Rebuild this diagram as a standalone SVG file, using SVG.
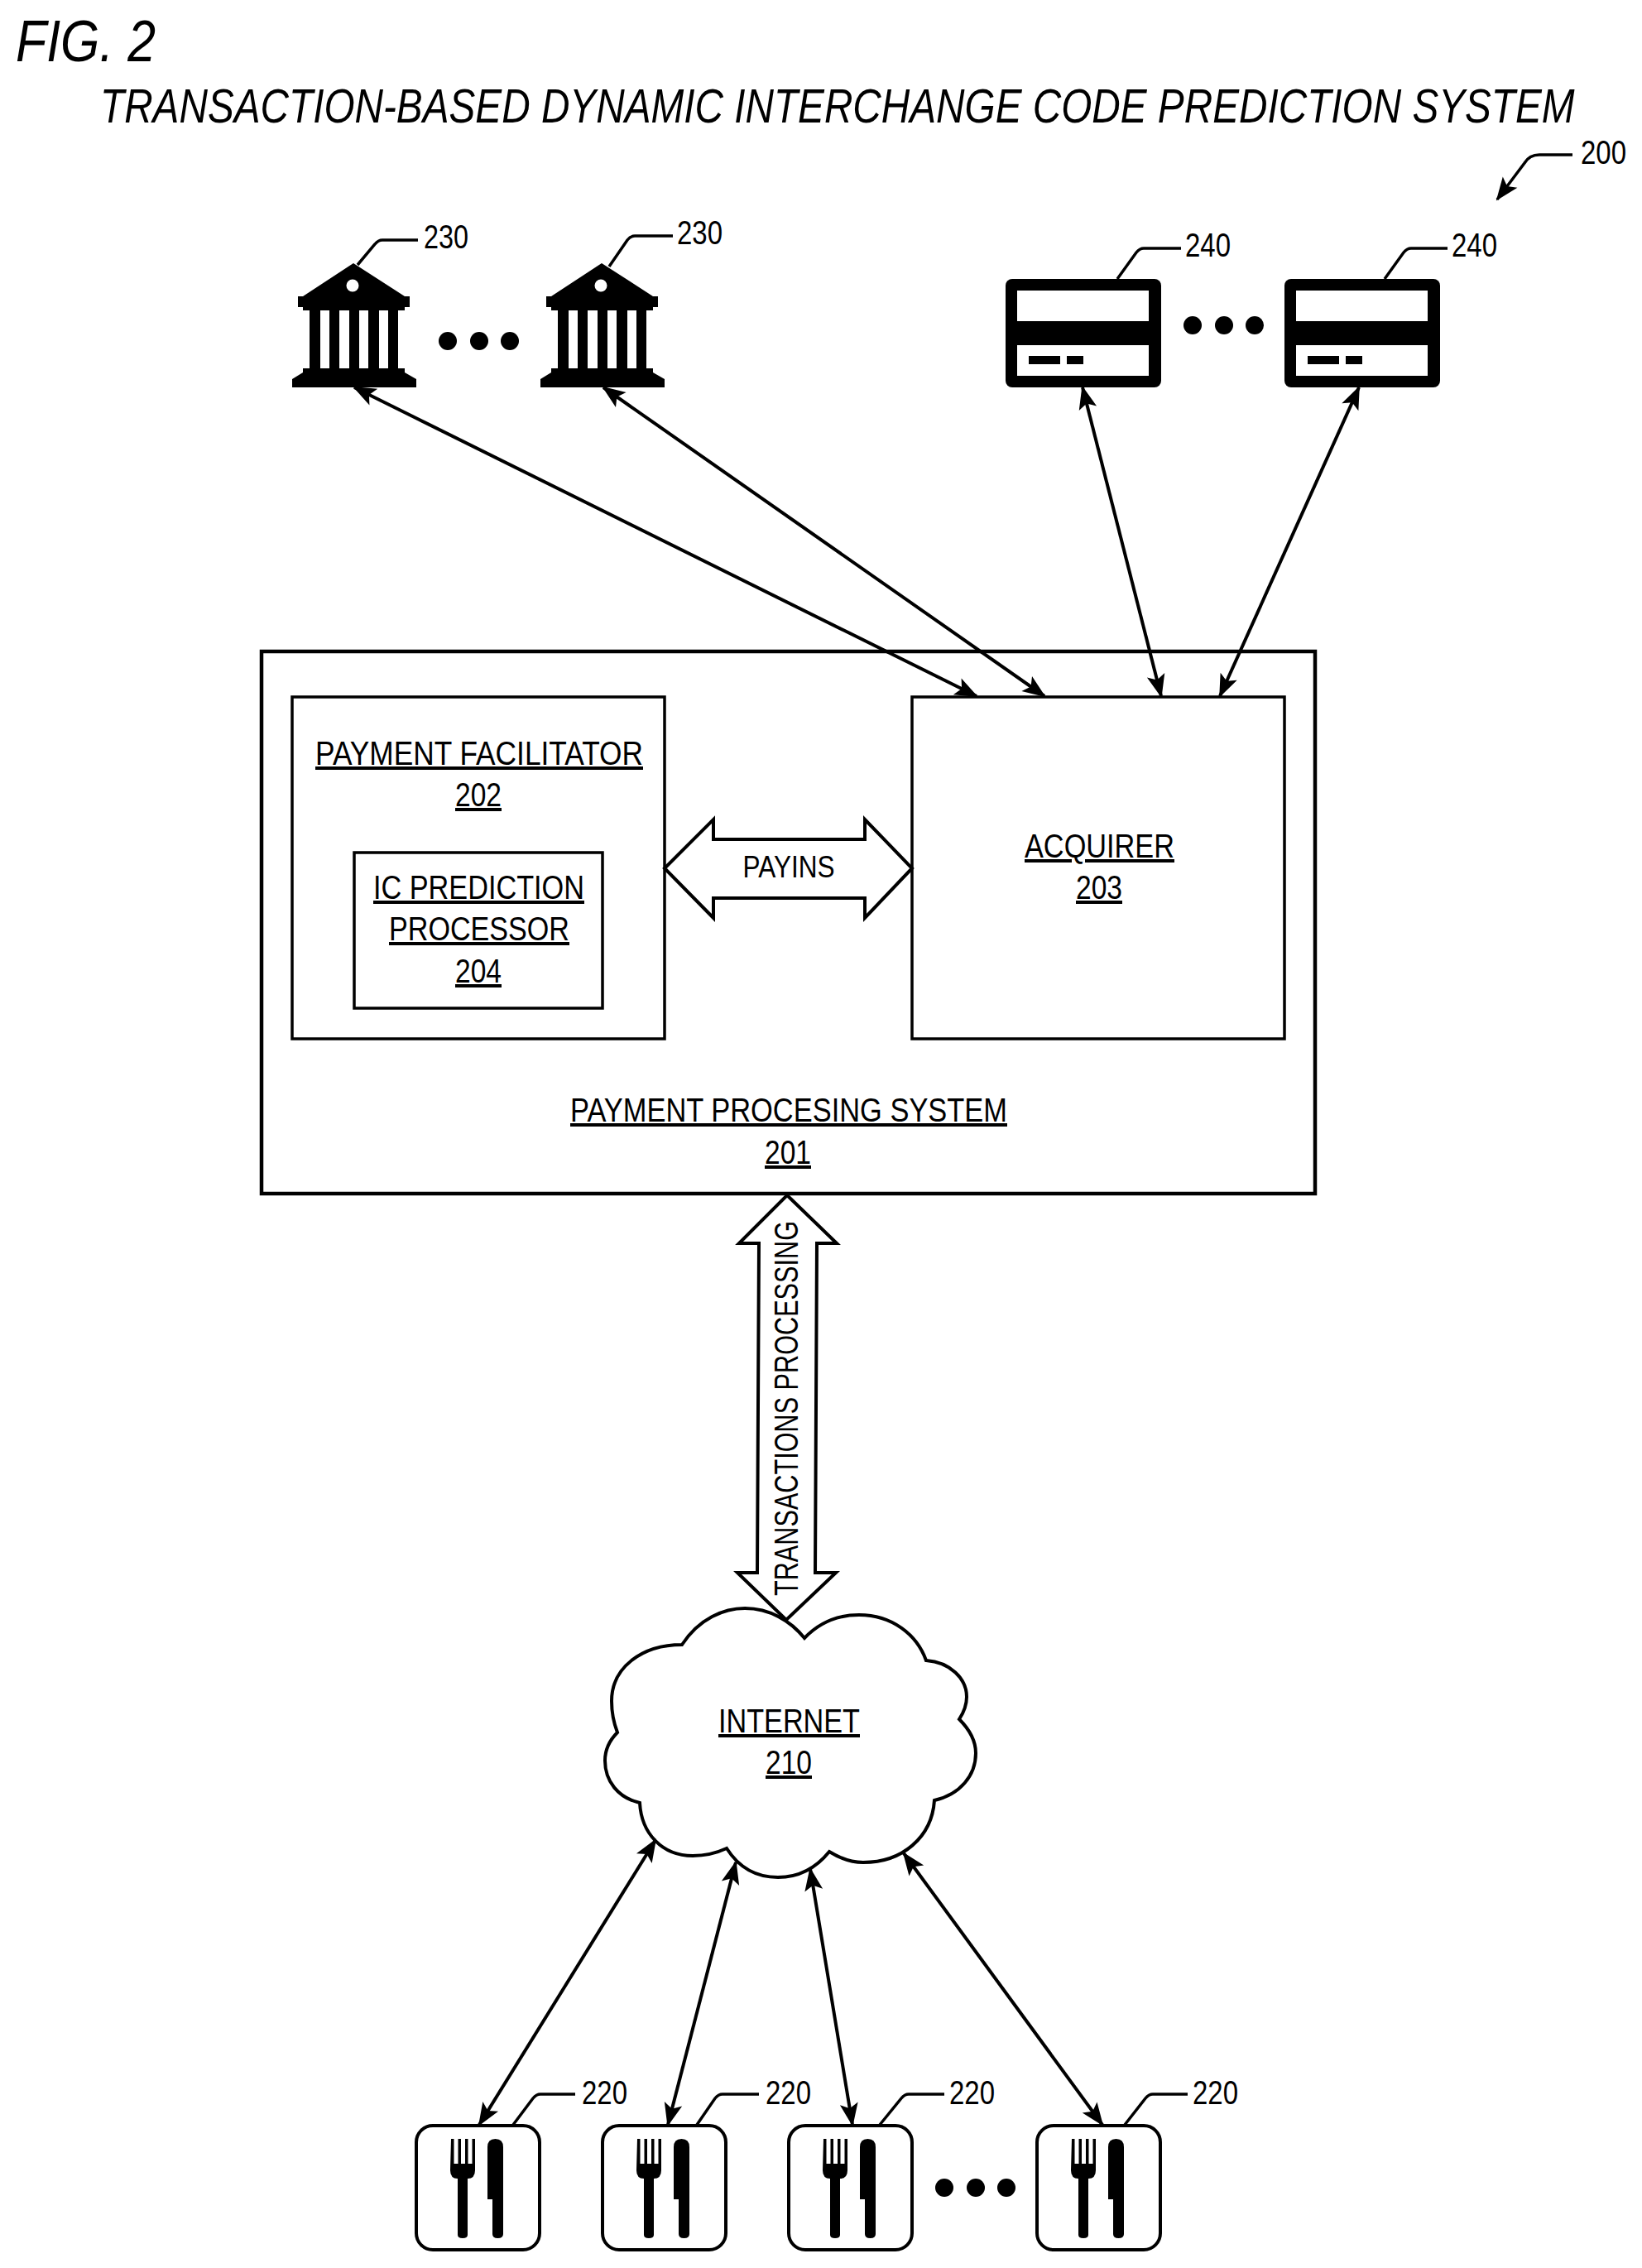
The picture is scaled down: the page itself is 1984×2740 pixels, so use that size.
<svg xmlns="http://www.w3.org/2000/svg" width="1984" height="2740" viewBox="0 0 1984 2740">
<style>
text{font-family:"Liberation Sans",Arial,sans-serif;fill:#000;font-size:40px}
.c{text-anchor:middle}
.u{text-decoration:underline;text-decoration-thickness:4px}
.box{fill:#fff;stroke:#000;stroke-width:3.500}
.outer{fill:#fff;stroke:#000;stroke-width:4.500}
.ln{fill:none;stroke:#000;stroke-width:4}
.ldr{fill:none;stroke:#000;stroke-width:3.500}
.big{fill:#fff;stroke:#000;stroke-width:4;stroke-linejoin:miter}
</style>
<defs>
<marker id="ah" markerUnits="userSpaceOnUse" markerWidth="34" markerHeight="28" refX="28" refY="14" orient="auto-start-reverse" overflow="visible">
<path d="M30,14 L2,3 L8,14 L2,25 Z" fill="#000"/>
</marker>
<g id="bank">
<path fill-rule="evenodd" d="M428,318 L490,358 L496,358 L496,371 L490,371 L490,375 L482,375 L482,445 L490,445 L490,450 L504,458 L504,468 L354,468 L354,458 L367,450 L367,445 L375,445 L375,375 L367,375 L367,371 L361,371 L361,358 L367,358 Z M388,375 L388,445 L399,445 L399,375 Z M411,375 L411,445 L423,445 L423,375 Z M435,375 L435,445 L446,445 L446,375 Z M459,375 L459,445 L470,445 L470,375 Z"/>
<circle cx="427" cy="345" r="7.500" fill="#fff"/>
</g>
<g id="card">
<rect x="1216" y="337" width="188" height="131" rx="8" fill="#000"/>
<rect x="1230" y="351" width="159" height="37" fill="#fff"/>
<rect x="1230" y="417" width="159" height="37" fill="#fff"/>
<rect x="1244" y="430" width="38" height="10" fill="#000"/>
<rect x="1290" y="430" width="20" height="10" fill="#000"/>
</g>
<g id="tile">
<rect x="504" y="2568" width="149" height="150" rx="20" fill="#fff" stroke="#000" stroke-width="4"/>
<path d="M546,2584 h3.500 v30 h5 v-30 h3.500 v30 h5 v-30 h3.500 v30 h5 v-30 h3.500 v38 q0,10 -9,10 v68 q0,4 -6,4 q-6,0 -6,-4 v-68 q-9,0 -9,-10 Z" fill="#000"/>
<path d="M590,2594 q0,-10 9.500,-10 q9.500,0 9.500,10 V2699 q0,5 -6.500,5 q-6.500,0 -6.500,-5 V2657 H590 Z" fill="#000"/>
</g>
</defs>

<g id="title">
<text x="19" y="74" font-style="italic" style="font-size:70px" textLength="169" lengthAdjust="spacingAndGlyphs">FIG. 2</text>
<text transform="translate(121,148) scale(0.85,1)" font-style="italic" style="font-size:57px" textLength="2096" lengthAdjust="spacingAndGlyphs">TRANSACTION-BASED DYNAMIC INTERCHANGE CODE PREDICTION SYSTEM</text>
</g>

<g id="ref-200">
<text x="1910" y="198" textLength="55" lengthAdjust="spacingAndGlyphs">200</text>
<path class="ldr" marker-end="url(#ah)" d="M1900,187 H1860 Q1848,187 1842,197 L1809,241"/>
</g>

<g id="system-201">
<rect class="outer" x="316" y="787" width="1273" height="655"/>
<text class="u" x="689" y="1355" textLength="528" lengthAdjust="spacingAndGlyphs">PAYMENT PROCESING SYSTEM</text>
<text class="u" x="924" y="1406" textLength="56" lengthAdjust="spacingAndGlyphs">201</text>
</g>

<g id="facilitator-202">
<rect class="box" x="353" y="842" width="450" height="413"/>
<text class="u" x="381" y="924" textLength="396" lengthAdjust="spacingAndGlyphs">PAYMENT FACILITATOR</text>
<text class="u" x="550" y="974" textLength="56" lengthAdjust="spacingAndGlyphs">202</text>
</g>

<g id="processor-204">
<rect class="box" x="428" y="1030" width="300" height="188"/>
<text class="u" x="451" y="1086" textLength="255" lengthAdjust="spacingAndGlyphs">IC PREDICTION</text>
<text class="u" x="470" y="1136" textLength="218" lengthAdjust="spacingAndGlyphs">PROCESSOR</text>
<text class="u" x="550" y="1187" textLength="56" lengthAdjust="spacingAndGlyphs">204</text>
</g>

<g id="acquirer-203">
<rect class="box" x="1102" y="842" width="450" height="413"/>
<text class="u" x="1238" y="1036" textLength="181" lengthAdjust="spacingAndGlyphs">ACQUIRER</text>
<text class="u" x="1300" y="1086" textLength="56" lengthAdjust="spacingAndGlyphs">203</text>
</g>

<g id="bank-230-1">
<use href="#bank" x="-1"/>
<path class="ldr" d="M432,320 L453,295 Q457,290 462,290 H505"/>
<text x="512" y="300" textLength="54" lengthAdjust="spacingAndGlyphs">230</text>
</g>
<g id="bank-230-2">
<use href="#bank" x="299"/>
<path class="ldr" d="M736,322 L758,290 Q762,285 767,285 H813"/>
<text x="818" y="295" textLength="55" lengthAdjust="spacingAndGlyphs">230</text>
</g>
<g id="bank-dots">
<circle cx="541" cy="412" r="11"/><circle cx="579" cy="412" r="11"/><circle cx="616" cy="412" r="11"/>
</g>

<g id="card-240-1">
<use href="#card" x="-1"/>
<path class="ldr" d="M1350,337 L1373,305 Q1377,300 1382,300 H1427"/>
<text x="1432" y="310" textLength="55" lengthAdjust="spacingAndGlyphs">240</text>
</g>
<g id="card-240-2">
<use href="#card" x="336"/>
<path class="ldr" d="M1673,337 L1696,305 Q1700,300 1705,300 H1749"/>
<text x="1754" y="310" textLength="55" lengthAdjust="spacingAndGlyphs">240</text>
</g>
<g id="card-dots">
<circle cx="1441" cy="393" r="11"/><circle cx="1479" cy="393" r="11"/><circle cx="1516" cy="393" r="11"/>
</g>

<g id="internet-210">
<path fill="#fff" stroke="#000" stroke-width="4" stroke-linejoin="miter" d="M824,1987 C845,1955 875,1943 900,1943 C930,1943 955,1958 972,1979 C990,1960 1012,1951 1038,1951 C1078,1951 1108,1975 1119,2006 C1148,2008 1168,2028 1168,2050 C1168,2060 1165,2068 1159,2077 C1172,2090 1179,2103 1179,2118 C1179,2145 1160,2168 1129,2175 C1126,2220 1090,2250 1043,2250 C1028,2250 1015,2245 1002,2237 C985,2258 965,2268 940,2268 C912,2268 892,2255 878,2233 C865,2239 852,2242 837,2242 C800,2242 775,2215 773,2178 C747,2172 731,2152 731,2127 C731,2113 737,2102 746,2093 C741,2080 739,2068 739,2055 C739,2015 775,1987 824,1987 Z"/>
<text class="u" x="868" y="2093" textLength="171" lengthAdjust="spacingAndGlyphs">INTERNET</text>
<text class="u" x="925" y="2143" textLength="56" lengthAdjust="spacingAndGlyphs">210</text>
</g>

<g id="merchant-220-1">
<use href="#tile" x="-1"/>
<path class="ldr" d="M620,2567 L644,2535 Q648,2530 653,2530 H695"/>
<text x="703" y="2542" textLength="55" lengthAdjust="spacingAndGlyphs">220</text>
</g>
<g id="merchant-220-2">
<use href="#tile" x="224"/>
<path class="ldr" d="M842,2567 L864,2535 Q868,2530 873,2530 H917"/>
<text x="925" y="2542" textLength="55" lengthAdjust="spacingAndGlyphs">220</text>
</g>
<g id="merchant-220-3">
<use href="#tile" x="449"/>
<path class="ldr" d="M1063,2567 L1089,2535 Q1093,2530 1098,2530 H1141"/>
<text x="1147" y="2542" textLength="55" lengthAdjust="spacingAndGlyphs">220</text>
</g>
<g id="merchant-220-4">
<use href="#tile" x="749"/>
<path class="ldr" d="M1359,2567 L1384,2535 Q1388,2530 1393,2530 H1435"/>
<text x="1441" y="2542" textLength="55" lengthAdjust="spacingAndGlyphs">220</text>
</g>
<g id="merchant-dots">
<circle cx="1141" cy="2643" r="11"/><circle cx="1179" cy="2643" r="11"/><circle cx="1216" cy="2643" r="11"/>
</g>

<g id="connectors">
<line class="ln" marker-start="url(#ah)" marker-end="url(#ah)" x1="428" y1="468" x2="1180" y2="841"/>
<line class="ln" marker-start="url(#ah)" marker-end="url(#ah)" x1="729" y1="468" x2="1262" y2="841"/>
<line class="ln" marker-start="url(#ah)" marker-end="url(#ah)" x1="1308" y1="468" x2="1403" y2="841"/>
<line class="ln" marker-start="url(#ah)" marker-end="url(#ah)" x1="1642" y1="468" x2="1474" y2="841"/>
<line class="ln" marker-start="url(#ah)" marker-end="url(#ah)" x1="792" y1="2223" x2="579" y2="2567"/>
<line class="ln" marker-start="url(#ah)" marker-end="url(#ah)" x1="889" y1="2250" x2="807" y2="2567"/>
<line class="ln" marker-start="url(#ah)" marker-end="url(#ah)" x1="979" y1="2258" x2="1030" y2="2567"/>
<line class="ln" marker-start="url(#ah)" marker-end="url(#ah)" x1="1092" y1="2239" x2="1332" y2="2567"/>
<g id="payins-arrow">
<path class="big" d="M803,1049 L862,990 V1014 H1045 V990 L1102,1049 L1045,1109 V1085 H862 V1109 Z"/>
<text class="c" x="953" y="1060" style="font-size:36px" textLength="111" lengthAdjust="spacingAndGlyphs">PAYINS</text>
</g>
<g id="transactions-arrow">
<path class="big" d="M951,1444 L1011,1502 H987 L985,1900 H1010 L950,1957 L891,1900 H915 L917,1502 H893 Z"/>
<text transform="translate(964,1928) rotate(-90)" style="font-size:41px" textLength="453" lengthAdjust="spacingAndGlyphs">TRANSACTIONS PROCESSING</text>
</g>
</g>
</svg>
